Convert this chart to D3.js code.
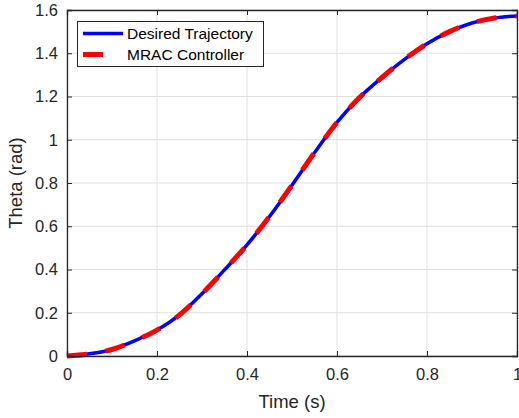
<!DOCTYPE html>
<html><head><meta charset="utf-8">
<script src="https://cdn.jsdelivr.net/npm/d3@7"></script>
<style>
html,body{margin:0;padding:0;background:#fff;}
svg{display:block;font-family:"Liberation Sans",Arial,sans-serif;}
</style></head>
<body>
<svg id="chart" width="519" height="418"></svg>
<script>
const timeS = [0,0.05,0.1,0.15,0.2,0.25,0.3,0.35,0.4,0.45,0.5,0.55,0.6,0.65,0.7,0.75,0.8,0.85,0.9,0.95,1.0];
const desiredTheta = [0,0.010,0.030,0.070,0.120,0.190,0.288,0.398,0.514,0.645,0.790,0.940,1.080,1.195,1.288,1.372,1.444,1.500,1.540,1.563,1.572];
const mracTheta = [0,0.010,0.030,0.070,0.120,0.190,0.288,0.398,0.514,0.645,0.790,0.940,1.080,1.195,1.288,1.372,1.444,1.500,1.540,1.563,1.572];
const xTicks = [0,0.2,0.4,0.6,0.8,1];
const yTicks = [0,0.2,0.4,0.6,0.8,1,1.2,1.4,1.6];
const seriesNames = ["Desired Trajectory","MRAC Controller"];

const svg = d3.select("#chart");
const L=67,R=517,T=10,B=356;
const x = d3.scaleLinear().domain([0,1]).range([L,R]);
const y = d3.scaleLinear().domain([0,1.6]).range([B,T]);
const axisColor="#262626";

// grid
const g = svg.append("g");
g.selectAll(".gx").data(xTicks).enter().append("line")
 .attr("x1",d=>x(d)).attr("x2",d=>x(d)).attr("y1",T).attr("y2",B)
 .attr("stroke","#dfdfdf").attr("stroke-width",1);
g.selectAll(".gy").data(yTicks).enter().append("line")
 .attr("y1",d=>y(d)).attr("y2",d=>y(d)).attr("x1",L).attr("x2",R)
 .attr("stroke","#dfdfdf").attr("stroke-width",1);

// lines
const pts1 = timeS.map((t,i)=>[t,desiredTheta[i]]);
const pts2 = timeS.map((t,i)=>[t,mracTheta[i]]);
const line = d3.line().x(d=>x(d[0])).y(d=>y(d[1])).curve(d3.curveMonotoneX);
svg.append("path").attr("d",line(pts1)).attr("fill","none")
 .attr("stroke","#0000ff").attr("stroke-width",3.5);
svg.append("path").attr("d",line(pts2)).attr("fill","none")
 .attr("stroke","#ff0000").attr("stroke-width",5).attr("stroke-dasharray","20,19");

// axes (inward ticks, box)
const tk=5;
const axB = d3.axisBottom(x).tickValues(xTicks).tickSize(-tk).tickPadding(12).tickFormat(d3.format("~g"));
const axT = d3.axisTop(x).tickValues(xTicks).tickSize(-tk).tickFormat("");
const axL = d3.axisLeft(y).tickValues(yTicks).tickSize(-tk).tickPadding(9).tickFormat(d3.format("~g"));
const axR = d3.axisRight(y).tickValues(yTicks).tickSize(-tk).tickFormat("");
function style(sel){
  sel.selectAll("path").attr("stroke",axisColor).attr("stroke-width",1.3);
  sel.selectAll("line").attr("stroke",axisColor).attr("stroke-width",1);
  sel.selectAll("text").attr("fill",axisColor).style("font-size","16.5px").style("font-family","'Liberation Sans',Arial,sans-serif");
}
svg.append("g").attr("transform",`translate(0,${B})`).call(axB).call(style);
svg.append("g").attr("transform",`translate(0,${T})`).call(axT).call(style);
svg.append("g").attr("transform",`translate(${L},0)`).call(axL).call(style);
svg.append("g").attr("transform",`translate(${R},0)`).call(axR).call(style);

// labels
svg.append("text").attr("x",(L+R)/2).attr("y",408).attr("text-anchor","middle")
 .attr("fill",axisColor).style("font-size","18.5px").text("Time (s)");
svg.append("text").attr("transform",`translate(22,${(T+B)/2}) rotate(-90)`).attr("text-anchor","middle")
 .attr("fill",axisColor).style("font-size","18.5px").text("Theta (rad)");

// legend
const lg = svg.append("g");
lg.append("rect").attr("x",77.5).attr("y",21.5).attr("width",186).attr("height",45)
 .attr("fill","#fff").attr("stroke","#262626").attr("stroke-width",1);
lg.append("line").attr("x1",83).attr("x2",123).attr("y1",33.5).attr("y2",33.5)
 .attr("stroke","#0000ff").attr("stroke-width",3.5);
lg.append("line").attr("x1",83).attr("x2",103).attr("y1",54.5).attr("y2",54.5)
 .attr("stroke","#ff0000").attr("stroke-width",5);
lg.selectAll("text.lt").data(seriesNames).enter().append("text")
 .attr("x",127).attr("y",(d,i)=>39+i*21).attr("fill","#000")
 .style("font-size","15.5px").text(d=>d);
</script>
</body></html>
